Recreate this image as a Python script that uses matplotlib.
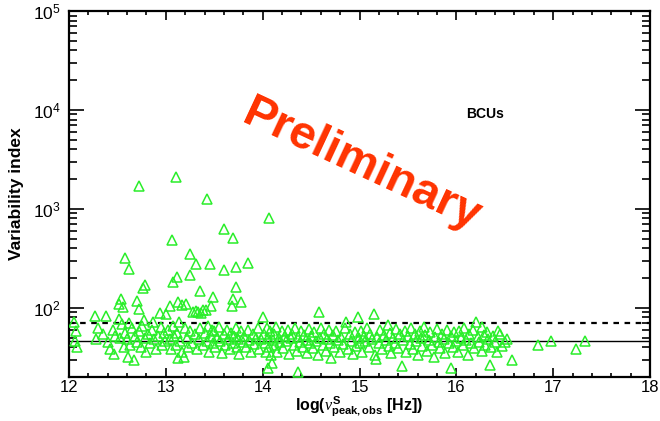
import matplotlib
matplotlib.use("Agg")
import matplotlib.pyplot as plt
from matplotlib.ticker import LogLocator, MultipleLocator, NullFormatter

plt.rcParams['font.family'] = ['Liberation Sans', 'DejaVu Sans']
plt.rcParams['mathtext.fontset'] = 'custom'
plt.rcParams['mathtext.rm'] = 'Liberation Sans'
plt.rcParams['mathtext.bf'] = 'Liberation Sans:bold'
plt.rcParams['mathtext.it'] = 'Liberation Serif:italic'

# ---- data: log(nu_peak) and variability index for BCUs ----
high_x = [12.72, 13.11, 13.42, 14.07, 13.60, 13.69, 13.06, 13.25, 12.58, 12.62,
          13.31, 13.46, 13.85, 13.60, 13.72, 13.12, 13.07, 13.25, 12.78, 12.76,
          13.72, 13.35, 13.49, 13.69, 13.78, 13.68, 12.54, 12.52, 12.56, 12.70,
          12.72, 13.04, 13.13, 13.17, 13.21, 13.47, 13.33, 13.38]
high_y = [1700, 2080, 1265, 813, 621, 504, 480, 349, 316, 245,
          279, 279, 286, 239, 259, 206, 181, 214, 170, 160,
          163, 147, 129, 124, 115, 105, 124, 110, 102, 118,
          98, 105, 115, 108, 110, 105, 90, 94]

low_x_a = [12.05, 12.06, 12.07, 12.08, 12.27, 12.30, 12.28, 12.38, 12.35, 12.42,
           12.46, 12.45, 12.48, 12.40]
low_y_a = [72, 46, 58, 40, 83, 62, 48, 83, 55, 38,
           34, 60, 52, 45]

low_x_b = [12.52, 12.55, 12.58, 12.60, 12.61, 12.63, 12.65, 12.67, 12.68, 12.70,
           12.72, 12.74, 12.75, 12.78, 12.80, 12.82, 12.84, 12.86, 12.88, 12.90,
           12.92, 12.94, 12.95, 12.96, 12.98, 13.00, 12.99, 12.57, 12.53, 12.62,
           12.77, 12.87]
low_y_b = [78, 68, 56, 48, 32, 42, 62, 30, 52, 45,
           58, 40, 66, 50, 36, 55, 44, 60, 48, 38,
           52, 88, 64, 42, 56, 86, 46, 40, 50, 70,
           75, 72]

low_x_c = [13.02, 13.04, 13.05, 13.07, 13.08, 13.10, 13.12, 13.13, 13.14, 13.15,
           13.17, 13.19, 13.20, 13.22, 13.23, 13.25, 13.27, 13.28, 13.30, 13.31,
           13.32, 13.34, 13.35, 13.36, 13.38, 13.40, 13.41, 13.42, 13.44, 13.45,
           13.47, 13.48, 13.49]
low_y_c = [60, 48, 38, 66, 52, 42, 56, 31, 72, 46,
           36, 32, 62, 50, 40, 58, 44, 90, 54, 92,
           38, 48, 62, 88, 42, 56, 95, 46, 66, 36,
           52, 60, 44]

low_x_d = [13.50, 13.51, 13.53, 13.55, 13.56, 13.58, 13.60, 13.61, 13.63, 13.64,
           13.66, 13.67, 13.69, 13.70, 13.72, 13.73, 13.75, 13.76, 13.78, 13.80,
           13.81, 13.83, 13.85, 13.86, 13.88, 13.90, 13.91, 13.93, 13.95, 13.96,
           13.98, 14.00]
low_y_d = [58, 40, 50, 64, 46, 35, 54, 42, 60, 48,
           38, 56, 44, 52, 62, 40, 48, 34, 58, 45,
           52, 40, 60, 47, 36, 54, 43, 50, 62, 38,
           48, 81]

low_x_e = [14.01, 14.02, 14.03, 14.04, 14.05, 14.06, 14.07, 14.08, 14.09, 14.10,
           14.11, 14.12, 14.13, 14.14, 14.15, 14.17, 14.18, 14.20, 14.21, 14.23,
           14.24, 14.26, 14.27, 14.29, 14.30, 14.32, 14.33, 14.35, 14.36, 14.37,
           14.39, 14.40, 14.42, 14.43, 14.45, 14.46, 14.48, 14.49]
low_y_e = [55, 44, 36, 62, 24.4, 50, 40, 58, 33, 28,
           47, 54, 42, 64, 36, 50, 45, 58, 39, 52,
           46, 60, 34, 49, 55, 42, 63, 37, 22.5, 51,
           45, 58, 40, 53, 47, 35, 61, 44]

low_x_f = [14.50, 14.52, 14.53, 14.55, 14.57, 14.58, 14.59, 14.60, 14.62, 14.63,
           14.65, 14.66, 14.68, 14.70, 14.71, 14.73, 14.74, 14.76, 14.78, 14.80,
           14.81, 14.83, 14.85, 14.86, 14.88, 14.90, 14.91, 14.93, 14.95, 14.96,
           14.98, 14.99]
low_y_f = [52, 39, 57, 46, 33, 91, 50, 62, 42, 55,
           37, 48, 60, 44, 31, 53, 40, 58, 47, 36,
           51, 43, 62, 72, 38, 54, 46, 34, 57, 41,
           81, 49]

low_x_g = [15.00, 15.02, 15.03, 15.05, 15.06, 15.08, 15.10, 15.11, 15.13, 15.15,
           15.16, 15.17, 15.18, 15.20, 15.21, 15.23, 15.25, 15.27, 15.29, 15.30,
           15.32, 15.33, 15.35, 15.37, 15.38, 15.40, 15.42, 15.44, 15.45, 15.47,
           15.48]
low_y_g = [44, 59, 36, 52, 46, 63, 40, 55, 48, 86,
           33, 30.5, 51, 44, 60, 38, 53, 47, 67, 41,
           56, 35, 50, 44, 61, 39, 54, 25.7, 47, 58,
           36]

low_x_h = [15.50, 15.52, 15.53, 15.55, 15.57, 15.58, 15.60, 15.62, 15.63, 15.65,
           15.67, 15.68, 15.70, 15.72, 15.73, 15.75, 15.77, 15.78, 15.80, 15.82,
           15.83, 15.85, 15.87, 15.88, 15.90, 15.92, 15.94, 15.95, 15.97, 15.98]
low_y_h = [52, 43, 62, 38, 55, 46, 33, 59, 49, 41,
           64, 53, 37, 47, 57, 42, 32, 51, 61, 45,
           39, 55, 48, 35, 60, 44, 24.4, 52, 40, 57]

low_x_i = [16.00, 16.02, 16.03, 16.05, 16.07, 16.08, 16.10, 16.12, 16.13, 16.15,
           16.17, 16.18, 16.20, 16.22, 16.23, 16.26, 16.27, 16.29, 16.30, 16.32,
           16.33, 16.35, 16.36, 16.38, 16.40, 16.42, 16.43, 16.45, 16.47, 16.50,
           16.52, 16.57]
low_y_i = [46, 36, 58, 50, 42, 62, 47, 33, 54, 44,
           60, 39, 72, 51, 45, 64, 37, 53, 42, 57,
           48, 26.5, 40, 52, 45, 36, 58, 55, 41, 45,
           48, 30]

low_x_j = [16.84, 16.98, 17.24, 17.33]
low_y_j = [42, 46, 38, 46]

threshold_99 = 70.0
threshold_mean = 46.0

x_ticks = [12, 13, 14, 15, 16, 17, 18]

all_x = (high_x + low_x_a + low_x_b + low_x_c + low_x_d + low_x_e + low_x_f
         + low_x_g + low_x_h + low_x_i + low_x_j)
all_y = (high_y + low_y_a + low_y_b + low_y_c + low_y_d + low_y_e + low_y_f
         + low_y_g + low_y_h + low_y_i + low_y_j)

fig = plt.figure(figsize=(6.6, 4.21), dpi=100)
ax = fig.add_axes([69/660, 1-377/421, (650-69)/660, (377-11)/421])

ax.plot(all_x, all_y, linestyle='none', marker='^', markersize=7,
        markerfacecolor='none', markeredgecolor='#2aee2a', markeredgewidth=1.1,
        zorder=3)
ax.axhline(threshold_mean, color='black', lw=1.0, zorder=2)
ax.axhline(threshold_99, color='black', lw=1.6, linestyle=(0, (2.5, 2.5)), zorder=2)

ax.set_yscale('log')
ax.set_xlim(12, 18)
ax.set_ylim(20, 1e5)
ax.set_xticks(x_ticks)
ax.xaxis.set_minor_locator(MultipleLocator(0.2))
ax.yaxis.set_major_locator(LogLocator(base=10, numticks=10))
ax.yaxis.set_minor_locator(LogLocator(base=10, subs=range(2, 10), numticks=20))
ax.yaxis.set_minor_formatter(NullFormatter())

ax.tick_params(which='both', direction='in', top=True, right=True, width=1.2)
ax.tick_params(which='major', axis='y', length=11, labelsize=12.5, pad=6)
ax.tick_params(which='minor', axis='y', length=6)
ax.tick_params(which='major', axis='x', length=6.5, labelsize=12, pad=2)
ax.tick_params(which='minor', axis='x', length=3)
for s in ax.spines.values():
    s.set_linewidth(1.6)

ax.set_ylabel('Variability index', fontsize=12.5, fontweight='bold', labelpad=6)
ax.set_xlabel(r'log($\nu^{\mathbf{S}}_{\mathbf{peak,obs}}$ [Hz])', fontsize=11.5,
              fontweight='bold', labelpad=0)

ax.text(16.3, 1e4 * 0.9, 'BCUs', fontsize=10, fontweight='bold', ha='center',
        va='center')
fig.text(362/660, 1-165/421, 'Preliminary', fontsize=34, fontweight='bold',
         color='#ff3300', rotation=-25, ha='center', va='center',
         rotation_mode='anchor')

fig.savefig('out.png', dpi=100)
